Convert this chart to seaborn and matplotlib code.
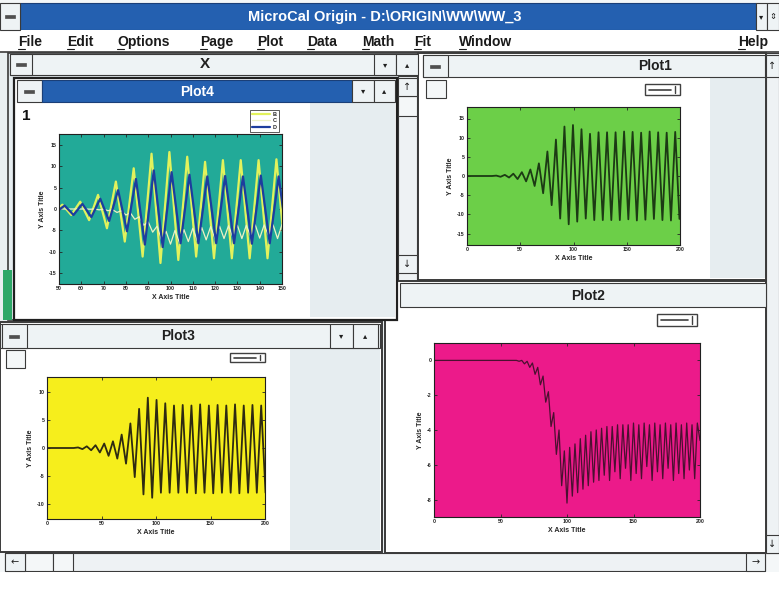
import numpy as np
import pandas as pd
import matplotlib
matplotlib.use("Agg")
import matplotlib.pyplot as plt
import seaborn as sns
from matplotlib.patches import Rectangle

# worksheet columns B, C, D: turning points
b_x = np.r_[0, np.arange(23.5, 200, 4)]
b_y = [0,
       0, 0.1, -0.2, 0.3, -0.4, 0.6, -0.8, 1.0, -1.4, 1.7,
       -2.6, 3.3, -4.5, 6.4, -7.6, 9.5, -11.1, 12.9, -12.6, 13.3,
       -11.9, 12.2, -11.1, 11.0, -11.5, 11.4, -11.5, 11.4, -11.5, 11.4,
       -11.5, 11.6, -11.3, 11.5, -11.6, 11.3, -11.4, 11.6, -11.2, 11.4,
       -11.5, 11.3, -11.6, 11.5, -11.2]

d_x = np.r_[0, np.arange(24.5, 201, 4)]
d_y = [0,
       0, 0.1, -0.2, 0.3, -0.4, 0.5, -0.8, 0.8, -1.4, 1.2,
       -1.9, 2.4, -2.8, 4.4, -5.2, 7.0, -8.3, 9.0, -8.9, 8.6,
       -8.0, 8.0, -8.0, 7.6, -8.0, 7.7, -8.0, 7.6, -8.1, 7.8,
       -8.0, 7.6, -8.1, 7.7, -8.0, 7.6, -8.0, 7.8, -8.1, 7.6,
       -8.0, 7.7, -8.0, 7.6, -8.0]

c_x = np.r_[0, np.arange(62, 201, 2)]
c_y = [0,
       0, -0.05, 0, -0.2, -0.05, -0.4, -0.15, -0.8, -0.4, -1.4,
       -0.9, -2.4, -1.8, -3.8, -3.0, -5.4, -4.0, -7.2, -5.2, -8.2,
       -5.0, -7.8, -4.8, -7.6, -4.5, -7.4, -4.3, -7.2, -4.1, -7.0,
       -4.0, -6.9, -3.9, -6.6, -3.8, -6.9, -3.8, -6.4, -3.7, -6.8,
       -3.7, -6.2, -3.7, -6.9, -3.6, -6.5, -3.7, -6.8, -3.6, -6.1,
       -3.7, -6.9, -3.6, -6.4, -3.7, -6.8, -3.6, -6.2, -3.7, -6.9,
       -3.6, -6.5, -3.7, -6.8, -3.6, -6.3, -3.7, -6.8, -3.6, -4.6]

menu_items = ["File", "Edit", "Options", "Page", "Plot", "Data", "Math", "Fit", "Window", "Help"]
menu_pos = [18, 67, 117, 200, 257, 307, 362, 414, 459, 738]

sns.set_style("ticks")
plt.rcParams["font.family"] = ["Liberation Sans Narrow", "Liberation Sans", "DejaVu Sans"]
plt.rcParams["axes.unicode_minus"] = False

W, H = 779, 592
fig = plt.figure(figsize=(W / 100, H / 100), dpi=100)
fig.patch.set_facecolor("#f4f7f8")

# screen chrome, drawn in pixel coordinates
ui = fig.add_axes([0, 0, 1, 1])
ui.set_xlim(0, W)
ui.set_ylim(H, 0)
ui.axis("off")

BLUE = "#2460b0"
BAR = "#eef3f5"
PAGE = "#e6edf0"
EDGE = "#3a3a3a"


def box(x0, y0, x1, y1, fc, ec=EDGE, lw=0.8, z=1):
    ui.add_patch(Rectangle((x0, y0), x1 - x0, y1 - y0, facecolor=fc,
                           edgecolor=ec, linewidth=lw, zorder=z))


def sysbox(x0, y0, x1, y1, z=2):
    box(x0, y0, x1, y1, BAR, z=z)
    cx, cy = (x0 + x1) / 2, (y0 + y1) / 2
    box(cx - 5, cy - 1.5, cx + 5, cy + 1.5, "#505050", ec="#505050", lw=0.5, z=z + 1)


def button(x0, y0, x1, y1, glyph, z=2, size=6):
    box(x0, y0, x1, y1, BAR, z=z)
    ui.text((x0 + x1) / 2, (y0 + y1) / 2, glyph, ha="center", va="center",
            fontsize=size, color="#202020", zorder=z + 1,
            family=["DejaVu Sans"])


def legend_icon(x0, y0, x1, y1, z=3):
    box(x0, y0, x1, y1, "white", ec="#404040", lw=1.0, z=z)
    ui.plot([x0 + 4, x1 - 9], [(y0 + y1) / 2] * 2, color="#404040", lw=1.2, zorder=z + 1)
    ui.plot([x1 - 5, x1 - 5], [y0 + 2, y1 - 2], color="#404040", lw=1.0, zorder=z + 1)


# main title bar + menu
sysbox(0, 3, 20, 30)
box(20, 3, 756, 30, BLUE, ec="#1a3f78")
ui.text(385, 17, "MicroCal Origin - D:\\ORIGIN\\WW\\WW_3", ha="center", va="center",
        color="white", fontsize=10.5, fontweight="bold", zorder=3)
button(756, 3, 767, 30, "▾")
button(767, 3, 779, 30, "⇕")
box(0, 30, 779, 52, "white", ec="none", lw=0)
ui.plot([0, 779], [52, 52], color=EDGE, lw=1.2, zorder=2)
for item, xp in zip(menu_items, menu_pos):
    ui.text(xp, 42, item, ha="left", va="center", fontsize=10,
            fontweight="bold", color="#1a1a1a", zorder=3)
    ui.plot([xp, xp + 7], [48.5, 48.5], color="#1a1a1a", lw=0.8, zorder=3)

# MDI client area
box(0, 53, 779, 553, "#e9eff1", ec="none", lw=0, z=0.5)

# worksheet "X" (behind)
box(8, 53, 418, 320, PAGE, ec=EDGE, lw=1.2)
box(10, 54, 398, 75, BAR)
sysbox(10, 54, 32, 75)
ui.text(205, 64.5, "X", ha="center", va="center", fontsize=11, fontweight="bold",
        color="#202020", zorder=3)
button(374, 54, 396, 75, "▾")
button(396, 54, 418, 75, "▴")
box(398, 76, 417, 318, "#eef2f4")
button(398, 78, 417, 96, "↑", size=7)
box(398, 96, 417, 116, "#f4f7f8")
button(398, 255, 417, 273, "↓", size=7)
box(3, 270, 12, 320, "#2ea868", ec="none", lw=0)

# Plot4 window (active)
box(14, 78, 397, 320, "white", ec="#202020", lw=1.6, z=2)
box(17, 102, 310, 317, "white", ec="none", lw=0, z=2)
box(310, 102, 395, 317, PAGE, ec="none", lw=0, z=2)
sysbox(17, 80, 42, 102, z=3)
box(42, 80, 352, 102, BLUE, ec="#1a3f78", z=3)
ui.text(197, 91.5, "Plot4", ha="center", va="center", color="white",
        fontsize=10, fontweight="bold", zorder=4)
button(352, 80, 374, 102, "▾", z=3)
button(374, 80, 395, 102, "▴", z=3)
ui.text(26, 116, "1", ha="center", va="center", fontsize=11, fontweight="bold",
        color="#101010", zorder=4)

# Plot1 window
box(418, 53, 766, 280, "white", ec=EDGE, lw=1.4)
box(710, 77, 765, 278, PAGE, ec="none", lw=0)
box(423, 55, 765, 77, BAR)
sysbox(423, 55, 448, 77)
ui.text(655, 66.5, "Plot1", ha="center", va="center", fontsize=10,
        fontweight="bold", color="#202020", zorder=3)
box(426, 80, 446, 98, "#f4f7f8")
legend_icon(645, 84, 680, 95)

# main vertical scroll bar
box(766, 53, 779, 553, "#eef2f4")
button(766, 55, 779, 77, "↑", size=7)
button(766, 535, 779, 553, "↓", size=7)

# Plot2 window
box(385, 281, 766, 553, "white", ec=EDGE, lw=1.4)
box(400, 283, 766, 307, BAR)
ui.text(588, 295.5, "Plot2", ha="center", va="center", fontsize=10,
        fontweight="bold", color="#202020", zorder=3)
legend_icon(657, 314, 697, 326)

# Plot3 window
box(0, 322, 382, 552, "white", ec=EDGE, lw=1.4)
box(290, 348, 380, 550, PAGE, ec="none", lw=0)
box(0, 324, 380, 348, BAR)
sysbox(2, 324, 27, 348)
ui.text(178, 336, "Plot3", ha="center", va="center", fontsize=10,
        fontweight="bold", color="#202020", zorder=3)
button(330, 324, 353, 348, "▾")
button(353, 324, 378, 348, "▴")
box(6, 350, 25, 368, "#f4f7f8")
legend_icon(230, 353, 265, 362)

# bottom scroll bar
box(5, 553, 765, 571, "#eef2f4")
button(5, 553, 25, 571, "←", size=7)
box(25, 553, 53, 571, "#f4f7f8")
box(53, 553, 73, 571, "#f4f7f8")
button(746, 553, 765, 571, "→", size=7)
box(0, 572, 779, 592, "white", ec="none", lw=0)


def plot_axes(x0, y0, x1, y1, bg, xlim, ylim, xticks, yticks):
    ax = fig.add_axes([x0 / W, 1 - y1 / H, (x1 - x0) / W, (y1 - y0) / H])
    ax.set_facecolor(bg)
    ax.set_xlim(*xlim)
    ax.set_ylim(*ylim)
    ax.set_xticks(xticks)
    ax.set_yticks(yticks)
    ax.tick_params(direction="in", length=2, width=0.6, labelsize=3.8, pad=1.5,
                   top=True, right=True)
    for lab in ax.get_xticklabels() + ax.get_yticklabels():
        lab.set_fontweight("bold")
    for sp in ax.spines.values():
        sp.set_visible(True)
        sp.set_linewidth(0.8)
        sp.set_color("#202020")
    ax.set_xlabel("X Axis Title", fontsize=5, fontweight="bold", labelpad=2)
    ax.set_ylabel("Y Axis Title", fontsize=5, fontweight="bold", labelpad=2)
    return ax


# Plot4: B, C, D between 50 and 150
ax4 = plot_axes(59, 134, 282, 284, "#22aa98", (50, 150), (-17.5, 17.5),
                range(50, 151, 10), range(-15, 16, 5))
sns.lineplot(x=b_x, y=b_y, ax=ax4, color="#e2f25c", linewidth=1.6, label="B")
sns.lineplot(x=c_x, y=c_y, ax=ax4, color="#eef2c4", linewidth=0.9, label="C")
sns.lineplot(x=d_x, y=d_y, ax=ax4, color="#1d3d9e", linewidth=1.6, label="D")
leg = ax4.legend(loc="upper right", bbox_to_anchor=(1.0, 1.18), fontsize=4,
                 handlelength=3.2, handletextpad=0.6, borderpad=0.4,
                 labelspacing=0.25, frameon=True, fancybox=False, framealpha=1)
leg.get_frame().set_edgecolor("#404040")
leg.get_frame().set_linewidth(0.6)
for t in leg.get_texts():
    t.set_fontweight("bold")

# Plot1: column B
ax1 = plot_axes(467, 107, 680, 245, "#6ccf48", (0, 200), (-18, 18),
                range(0, 201, 50), range(-15, 16, 5))
sns.lineplot(x=b_x, y=b_y, ax=ax1, color="#1c3a14", linewidth=1.3)

# Plot3: column D
ax3 = plot_axes(47, 377, 265, 519, "#f6ee1c", (0, 200), (-12.7, 12.7),
                range(0, 201, 50), range(-10, 11, 5))
sns.lineplot(x=d_x, y=d_y, ax=ax3, color="#2e2a12", linewidth=1.3)

# Plot2: column C
ax2 = plot_axes(434, 343, 700, 517, "#ec1a8a", (0, 200), (-9, 1),
                range(0, 201, 50), range(-8, 1, 2))
sns.lineplot(x=c_x, y=c_y, ax=ax2, color="#4a1030", linewidth=0.9)

fig.savefig("out.png", dpi=100, facecolor=fig.get_facecolor())
